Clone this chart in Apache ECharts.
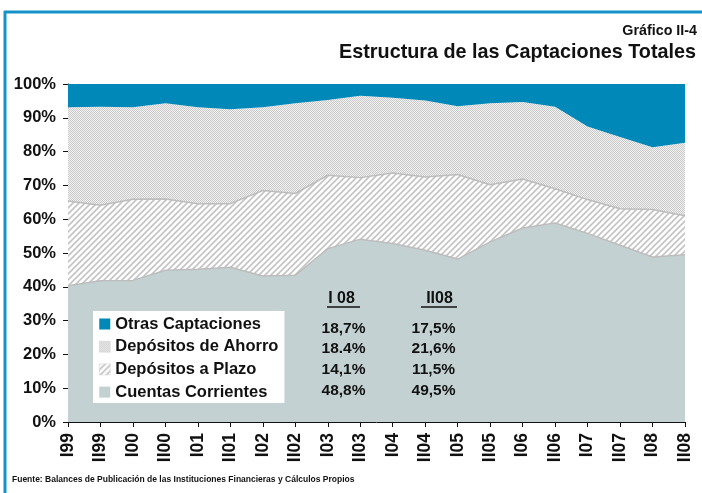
<!DOCTYPE html>
<html>
<head>
<meta charset="utf-8">
<script src="https://cdn.jsdelivr.net/npm/echarts@6/dist/echarts.min.js"></script>
<style>
  html, body { margin: 0; padding: 0; background: #fff; }
  #chart { width: 702px; height: 493px; }
</style>
</head>
<body>
<div id="chart"></div>
<script>
// periods (semesters)
var categories = ['I99','II99','I00','II00','I01','II01','I02','II02','I03','II03',
                  'I04','II04','I05','II05','I06','II06','I07','II07','I08','II08'];
// shares in % (stacked to 100)
var corrientes = [40.3,41.8,41.9,44.9,45.2,45.8,43.2,43.4,51.3,54.1,52.8,50.8,48.2,53.3,57.4,58.9,55.8,52.3,48.8,49.5];
var plazo      = [25.1,22.3,24.0,21.1,19.4,18.8,25.3,24.2,21.7,18.2,20.9,21.7,25.0,16.9,14.5,10.1,10.0,10.8,14.1,11.5];
var ahorro     = [27.7,29.2,27.2,28.3,28.5,27.9,24.6,26.7,22.3,24.2,22.2,22.6,20.2,24.1,22.8,24.3,21.6,21.2,18.4,21.6];
var otras      = [6.9,6.7,6.9,5.7,6.9,7.5,6.9,5.7,4.7,3.5,4.1,4.9,6.6,5.7,5.3,6.7,12.6,15.7,18.7,17.4];

var seriesNames = ['Cuentas Corrientes','Depósitos a Plazo','Depósitos de Ahorro','Otras Captaciones'];
var tableHeads = ['I 08','II08'];
var tableRows = [
  ['18,7%','17,5%'],
  ['18.4%','21,6%'],
  ['14,1%','11,5%'],
  ['48,8%','49,5%']
];

var FONT = "'Liberation Sans', Arial, sans-serif";

// fill patterns
function dotPattern() {
  var c = document.createElement('canvas');
  c.width = 4; c.height = 4;
  var g = c.getContext('2d');
  g.fillStyle = '#f2f2f2';
  g.fillRect(0, 0, 4, 4);
  g.fillStyle = '#c9c9c9';
  for (var y = 0; y < 4; y++)
    for (var x = 0; x < 4; x++)
      if ((x + y) % 2 === 0) g.fillRect(x, y, 1, 1);
  return c;
}
function hatchPattern() {
  var c = document.createElement('canvas');
  c.width = 6; c.height = 6;
  var g = c.getContext('2d');
  g.fillStyle = '#ffffff';
  g.fillRect(0, 0, 6, 6);
  g.strokeStyle = '#c4c4c4';
  g.lineWidth = 1.6;
  g.beginPath();
  g.moveTo(-3, 3); g.lineTo(3, -3);
  g.moveTo(0, 6); g.lineTo(6, 0);
  g.moveTo(3, 9); g.lineTo(9, 3);
  g.stroke();
  return c;
}
var dots = { image: dotPattern(), repeat: 'repeat' };
var hatch = { image: hatchPattern(), repeat: 'repeat' };

var blue = '#0088b9';
var grey = '#c3d1d2';
var edge = '#bdbdbd';

function areaSeries(name, data, fill, lineColor, lineWidth) {
  return {
    name: name,
    type: 'line',
    stack: 'total',
    data: data,
    symbol: 'none',
    smooth: false,
    lineStyle: { color: lineColor, width: lineWidth },
    itemStyle: { color: fill },
    areaStyle: { color: fill, opacity: 1 },
    emphasis: { disabled: true },
    z: 2
  };
}

// table of the last two semesters
var headX = [341.5, 439.5];
var lineX = [[327, 360], [421, 457]];
var colX = [343.5, 433.5];
var rowY = [328.5, 348.5, 369.5, 391];
var tableGraphics = [];
tableHeads.forEach(function (h, i) {
  tableGraphics.push({
    type: 'text', x: headX[i], y: 299, z: 20,
    style: { text: h, font: 'bold 16px ' + FONT, fill: '#111', align: 'center', verticalAlign: 'middle' }
  });
  tableGraphics.push({
    type: 'line', z: 20, shape: { x1: lineX[i][0], y1: 307, x2: lineX[i][1], y2: 307 },
    style: { stroke: '#111', lineWidth: 1.5 }
  });
});
tableRows.forEach(function (row, r) {
  row.forEach(function (v, c) {
    tableGraphics.push({
      type: 'text', x: colX[c], y: rowY[r], z: 20,
      style: { text: v, font: 'bold 15.5px ' + FONT, fill: '#111', align: 'center', verticalAlign: 'middle' }
    });
  });
});

var chart = echarts.init(document.getElementById('chart'));
chart.setOption({
  animation: false,
  backgroundColor: '#fff',
  textStyle: { fontFamily: FONT },
  title: [
    { text: 'Gráfico II-4', right: 5, top: 24, padding: 0,
      textStyle: { fontSize: 14.3, fontWeight: 'bold', color: '#111', fontFamily: FONT } },
    { text: 'Estructura de las Captaciones Totales', right: 6, top: 43, padding: 0,
      textStyle: { fontSize: 19.8, fontWeight: 'bold', color: '#111', fontFamily: FONT } },
    { text: 'Fuente: Balances de Publicación de las Instituciones Financieras y Cálculos Propios', left: 12, top: 475, padding: 0,
      textStyle: { fontSize: 8.5, fontWeight: 'bold', color: '#111', fontFamily: FONT } }
  ],
  grid: { left: 68, right: 17, top: 84, bottom: 71, containLabel: false },
  legend: {
    orient: 'vertical',
    left: 93, top: 311,
    padding: [4, 6, 2, 6],
    backgroundColor: '#fff',
    itemWidth: 11, itemHeight: 11, itemGap: 4.7,
    selectedMode: false,
    icon: 'rect',
    textStyle: { fontSize: 16.5, fontWeight: 'bold', color: '#111', fontFamily: FONT, lineHeight: 18 },
    data: [
      { name: seriesNames[3], itemStyle: { color: blue } },
      { name: seriesNames[2], itemStyle: { color: dots, borderColor: '#d0d0d0', borderWidth: 0.5 } },
      { name: seriesNames[1], itemStyle: { color: hatch, borderColor: '#d0d0d0', borderWidth: 0.5 } },
      { name: seriesNames[0], itemStyle: { color: grey } }
    ]
  },
  xAxis: {
    type: 'category',
    data: categories,
    boundaryGap: false,
    axisLine: { lineStyle: { color: '#111', width: 1 } },
    axisTick: { show: true, length: 5, lineStyle: { color: '#111' }, interval: 0 },
    axisLabel: { interval: 0, rotate: 90, margin: 11, fontSize: 17.5, fontWeight: 'bold', color: '#111', fontFamily: FONT },
    splitLine: { show: false }
  },
  yAxis: {
    type: 'value',
    min: 0, max: 100, interval: 10,
    axisLine: { show: true, lineStyle: { color: '#111', width: 1 } },
    axisTick: { show: true, length: 5, lineStyle: { color: '#111' } },
    axisLabel: { formatter: '{value}%', margin: 12, fontSize: 16.5, fontWeight: 'bold', color: '#111', fontFamily: FONT },
    splitLine: { show: false }
  },
  series: [
    areaSeries(seriesNames[0], corrientes, grey, edge, 1.5),
    areaSeries(seriesNames[1], plazo, hatch, edge, 1.5),
    areaSeries(seriesNames[2], ahorro, dots, blue, 0),
    areaSeries(seriesNames[3], otras, blue, blue, 0)
  ],
  graphic: [
    { type: 'line', shape: { x1: 4, y1: 12, x2: 702, y2: 12 }, style: { stroke: '#1593c8', lineWidth: 3 }, z: 10 },
    { type: 'line', shape: { x1: 5, y1: 11, x2: 5, y2: 493 }, style: { stroke: '#1593c8', lineWidth: 3 }, z: 10 },
    { type: 'group', children: tableGraphics, z: 20 }
  ]
});
</script>
</body>
</html>
